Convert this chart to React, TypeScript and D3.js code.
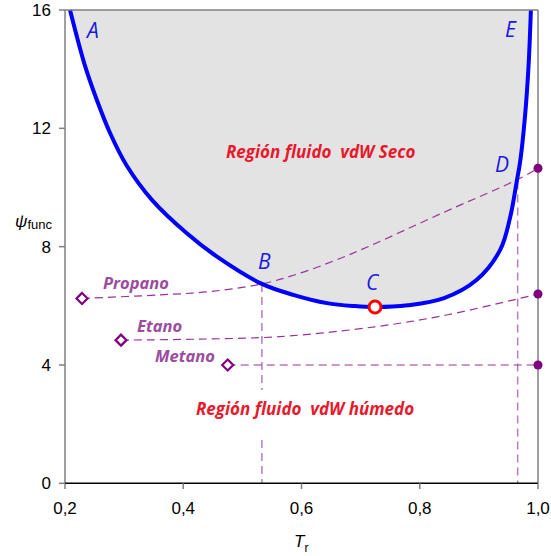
import React from "react";
import * as d3 from "d3";

// Saturation boundary of the vdW fluid (blue curve)
const BOUNDARY_TR = [0.2085, 0.234, 0.254, 0.276, 0.304, 0.347, 0.406, 0.457, 0.533, 0.586, 0.643, 0.69, 0.724, 0.78, 0.84, 0.896, 0.936, 0.953, 0.964, 0.97, 0.978, 0.984, 0.988];
const BOUNDARY_PSI = [16.0, 14.1, 12.95, 11.85, 10.75, 9.58, 8.45, 7.66, 6.74, 6.37, 6.09, 5.99, 5.96, 6.02, 6.25, 6.87, 7.89, 9.0, 10.2, 10.9, 12.4, 14.1, 16.0];

// Substance curves
const PROPANO_TR = [0.2288, 0.361, 0.445, 0.533, 0.6, 0.665, 0.724, 0.834, 0.9695, 1.0];
const PROPANO_PSI = [6.25, 6.37, 6.48, 6.74, 7.12, 7.6, 8.1, 9.1, 10.31, 10.65];
const ETANO_TR = [0.2947, 0.417, 0.5636, 0.724, 0.8455, 1.0];
const ETANO_PSI = [4.84, 4.87, 4.96, 5.29, 5.69, 6.4];
const METANO_TR = [0.4752, 1.0];
const METANO_PSI = [4.0, 4.0];

// Key points
const POINT_B = { tr: 0.533, psi: 6.74 };
const POINT_C = { tr: 0.7243, psi: 5.96 };
const POINT_D = { tr: 0.9656, psi: 10.2 };

const X_TICKS = [0.2, 0.4, 0.6, 0.8, 1.0];
const Y_TICKS = [0, 4, 8, 12, 16];

const zip = (xs: number[], ys: number[]) => xs.map((x, i) => [x, ys[i]] as [number, number]);

export default function App() {
  const W = 551, H = 556;
  const x = d3.scaleLinear().domain([0.2, 1.0]).range([65, 538]);
  const y = d3.scaleLinear().domain([0, 16]).range([483.3, 10]);

  const line = d3.line<[number, number]>().x(d => x(d[0])).y(d => y(d[1])).curve(d3.curveCatmullRom.alpha(0.5));
  const area = d3.area<[number, number]>().x(d => x(d[0])).y0(y(16)).y1(d => y(d[1])).curve(d3.curveCatmullRom.alpha(0.5));

  const boundary = zip(BOUNDARY_TR, BOUNDARY_PSI);
  const propano = zip(PROPANO_TR, PROPANO_PSI);
  const etano = zip(ETANO_TR, ETANO_PSI);
  const metano = zip(METANO_TR, METANO_PSI);

  const lineColor = "#993399";
  const markColor = "#800080";
  const vColor = "#b77cc4";
  const labelColor = "#9b4c9e";
  const font = "'Open Sans', 'Liberation Sans', sans-serif";
  const axisFont = "'Liberation Sans', Arial, sans-serif";

  const diamond = (tr: number, psi: number, key: string) => {
    const cx = x(tr), cy = y(psi), r = 5.5;
    return (
      <path key={key} d={`M${cx},${cy - r}L${cx + r},${cy}L${cx},${cy + r}L${cx - r},${cy}Z`}
        fill="#fff" stroke={markColor} strokeWidth={2.2} />
    );
  };

  const letter = (t: string, px: number, py: number) => (
    <text x={px} y={py} fontFamily={font} fontStyle="italic" fontSize={21} fill="#1a1adf">{t}</text>
  );

  return (
    <svg width={W} height={H} style={{ position: "absolute", left: 0, top: 0 }}>
      {/* dry region fill */}
      <path d={area(boundary) || ""} fill="#e3e3e3" />

      {/* vertical guides at B and D */}
      <line x1={x(POINT_B.tr)} x2={x(POINT_B.tr)} y1={y(POINT_B.psi)} y2={390} stroke={vColor} strokeWidth={1.5} strokeDasharray="8,5" />
      <line x1={x(POINT_B.tr)} x2={x(POINT_B.tr)} y1={440} y2={y(0)} stroke={vColor} strokeWidth={1.5} strokeDasharray="8,5" />
      <line x1={x(POINT_D.tr)} x2={x(POINT_D.tr)} y1={y(POINT_D.psi)} y2={y(0)} stroke={vColor} strokeWidth={1.5} strokeDasharray="8,5" />

      {/* substance curves */}
      <path d={line(propano) || ""} fill="none" stroke={lineColor} strokeWidth={1.2} strokeDasharray="8,5" />
      <path d={line(etano) || ""} fill="none" stroke={lineColor} strokeWidth={1.2} strokeDasharray="8,5" />
      <path d={line(metano) || ""} fill="none" stroke={lineColor} strokeWidth={1.2} strokeDasharray="8,5" />

      {/* boundary curve */}
      <path d={line(boundary) || ""} fill="none" stroke="#0000ff" strokeWidth={4} />

      {/* frame */}
      <line x1={65} x2={538} y1={10} y2={10} stroke="#808080" strokeWidth={1.5} />
      <line x1={538} x2={538} y1={10} y2={483.3} stroke="#808080" strokeWidth={1.5} />
      <line x1={65} x2={65} y1={10} y2={483.3} stroke="#808080" strokeWidth={1.5} />
      <line x1={65} x2={538} y1={483.3} y2={483.3} stroke="#000" strokeWidth={1.5} />

      {Y_TICKS.map(t => (
        <g key={"y" + t}>
          <line x1={59} x2={65} y1={y(t)} y2={y(t)} stroke="#808080" strokeWidth={1.5} />
          <text x={51} y={y(t) + 6} textAnchor="end" fontFamily={axisFont} fontSize={17} fill="#000">{t}</text>
        </g>
      ))}
      {X_TICKS.map(t => (
        <g key={"x" + t}>
          <line x1={x(t)} x2={x(t)} y1={483.3} y2={489} stroke="#808080" strokeWidth={1.5} />
          <text x={x(t)} y={514} textAnchor="middle" fontFamily={axisFont} fontSize={17} fill="#000">{t.toFixed(1).replace(".", ",")}</text>
        </g>
      ))}

      {/* axis titles */}
      <text x={15} y={227} fontFamily={axisFont} fontSize={17} fill="#000">
        <tspan fontStyle="italic">ψ</tspan>
        <tspan fontSize={13} dy={2}>func</tspan>
      </text>
      <text x={294} y={547} fontFamily={axisFont} fontSize={17} fill="#000">
        <tspan fontStyle="italic">T</tspan>
        <tspan fontSize={12} dy={5}>r</tspan>
      </text>

      {/* markers */}
      {diamond(PROPANO_TR[0], PROPANO_PSI[0], "dp")}
      {diamond(ETANO_TR[0], ETANO_PSI[0], "de")}
      {diamond(METANO_TR[0], METANO_PSI[0], "dm")}
      {[propano, etano, metano].map((s, i) => (
        <circle key={"e" + i} cx={x(s[s.length - 1][0])} cy={y(s[s.length - 1][1])} r={4.5} fill={markColor} />
      ))}
      <circle cx={x(POINT_C.tr)} cy={y(POINT_C.psi)} r={6} fill="#fff" stroke="#ff0000" strokeWidth={3} />

      {/* point letters */}
      {letter("A", 87, 38)}
      {letter("B", 258, 269)}
      {letter("C", 366, 290)}
      {letter("D", 495, 172)}
      {letter("E", 505, 37)}

      {/* substance labels */}
      <text x={103} y={289} fontFamily={font} fontStyle="italic" fontWeight="bold" fontSize={16.5} fill={labelColor}>Propano</text>
      <text x={137} y={332} fontFamily={font} fontStyle="italic" fontWeight="bold" fontSize={16.5} fill={labelColor}>Etano</text>
      <text x={155} y={362} fontFamily={font} fontStyle="italic" fontWeight="bold" fontSize={16.5} fill={labelColor}>Metano</text>

      {/* region labels */}
      <text x={226} y={158} fontFamily={font} fontStyle="italic" fontWeight="bold" fontSize={17} fill="#e8192c" style={{ whiteSpace: "pre" }}>Región fluido  vdW Seco</text>
      <text x={196} y={415} fontFamily={font} fontStyle="italic" fontWeight="bold" fontSize={17} fill="#e8192c" style={{ whiteSpace: "pre" }}>Región fluido  vdW húmedo</text>
    </svg>
  );
}
